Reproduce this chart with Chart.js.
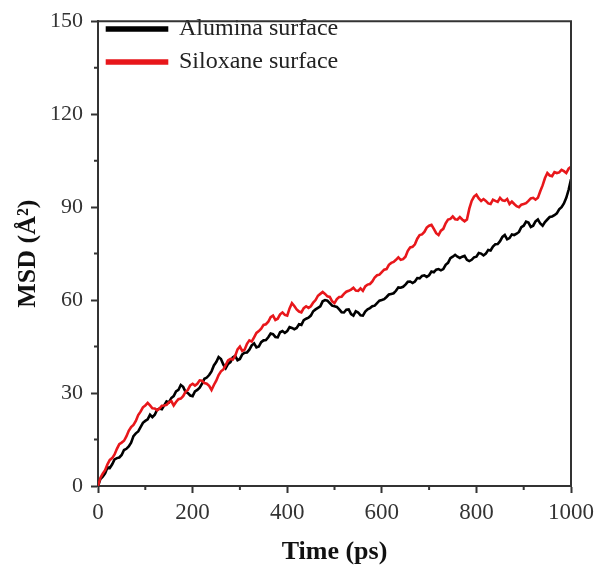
<!DOCTYPE html>
<html>
<head>
<meta charset="utf-8">
<script src="https://cdn.jsdelivr.net/npm/chart.js@4"></script>
<style>
  html, body { margin: 0; padding: 0; background: #fff; }
  #wrap { width: 600px; height: 574px; }
</style>
</head>
<body>
<div id="wrap"><canvas id="msdChart" width="600" height="574"></canvas></div>
<script>
// time axis (ps), one sample every 5 ps
const times = [];
for (let t = 0; t <= 1000; t += 5) times.push(t);

// MSD values (A^2)
const alumina = [
  0, 2.2, 3, 4.1, 6, 5.8, 7, 8.6, 9, 9.2, 10, 11.6, 12, 12.8, 14, 16.1, 17, 17.6, 19, 20.4,
  21, 21.5, 23, 22.2, 23, 24.6, 25, 24.8, 26, 27.3, 27, 28.4, 29, 30.5, 31, 32.6, 32, 30.4, 30, 29.2,
  29, 30.5, 31, 31.7, 33, 34.6, 35, 35.8, 37, 38.9, 40, 41.6, 41, 39.2, 38, 39.4, 40, 41.5, 42, 40.6,
  41, 42.5, 43, 43.1, 44, 45.4, 46, 44.7, 45, 46.4, 47, 47.1, 48, 49.2, 49, 48.1, 48, 49.6, 50, 49.4,
  50, 51.3, 51, 50.6, 51, 52.2, 52, 53.5, 54, 54.3, 55, 56.4, 57, 57.5, 58, 59.6, 60, 59.8, 59, 58.2,
  58, 57.8, 57, 56.1, 56, 56.9, 57, 55.5, 55, 56.4, 56, 55.1, 55, 56.3, 57, 57.4, 58, 58.2, 59, 59.8,
  60, 60.3, 61, 61.8, 62, 62.2, 63, 64.1, 64, 64.3, 65, 65.9, 66, 65.5, 66, 67.1, 67, 67.8, 68, 67.5,
  68, 69.2, 69, 69.8, 70, 69.6, 70, 71.4, 72, 73.5, 74, 74.6, 74, 73.6, 74, 74.3, 73, 72.6, 73, 73.8,
  74, 75.2, 75, 74.4, 75, 76.2, 76, 77.3, 78, 78.1, 79, 80.4, 81, 79.6, 80, 81.2, 81, 81.4, 82, 83.5,
  84, 85.3, 85, 83.6, 84, 85.4, 86, 84.7, 84, 85.2, 86, 86.8, 87, 87.4, 88, 89.3, 90, 91.2, 93, 95.6,
  99
];

const siloxane = [
  0, 2.6, 4, 5.1, 7, 8.4, 9, 10.2, 12, 13.5, 14, 14.6, 16, 17.8, 19, 19.7, 21, 22.9, 24, 25.4,
  26, 26.8, 26, 25.1, 25, 24.4, 25, 25.9, 26, 26.2, 27, 27.4, 26, 27.1, 28, 28.2, 29, 30.4, 31, 32.5,
  33, 32.4, 33, 34.1, 34, 33.2, 33, 32.3, 31, 32.6, 34, 35.8, 37, 37.6, 39, 40.5, 41, 40.8, 42, 44.1,
  45, 43.6, 44, 45.9, 47, 46.6, 48, 49.4, 50, 50.8, 52, 52.2, 53, 54.5, 55, 53.6, 54, 55.4, 56, 55.2,
  55, 57.3, 59, 58.1, 57, 56.3, 56, 57.4, 58, 57.5, 58, 59.2, 60, 61.4, 62, 62.6, 62, 61.2, 61, 59.6,
  59, 60.3, 61, 61.1, 62, 62.7, 63, 63.4, 64, 63.1, 63, 63.8, 63, 64.4, 65, 65.2, 66, 67.3, 68, 68.2,
  69, 69.8, 70, 71.4, 72, 72.3, 73, 73.8, 73, 73.2, 74, 75.9, 77, 77.2, 78, 79.8, 81, 81.2, 82, 83.4,
  84, 84.3, 83, 81.6, 81, 82.4, 83, 84.8, 86, 86.2, 87, 86.1, 86, 86.8, 86, 85.4, 86, 89.5, 92, 93.4,
  94, 92.8, 92, 92.6, 92, 91.2, 91, 92.4, 92, 91.7, 93, 92.2, 92, 92.6, 91, 91.8, 91, 90.3, 90, 90.8,
  91, 91.3, 92, 92.8, 93, 92.4, 93, 95.1, 97, 99.4, 101, 100.2, 100, 101.3, 101, 101.2, 102, 101.6, 101, 102.4,
  103
];

const seriesNames = ['Alumina surface', 'Siloxane surface'];
const xMinorTicks = [100, 300, 500, 700, 900];
const yMinorTicks = [15, 45, 75, 105, 135];

const axisColor = '#333';
const serif = 'Liberation Serif, Times New Roman, serif';

// box round the plot and short minor ticks
const framePlugin = {
  id: 'frame',
  afterDraw(chart) {
    const { ctx, chartArea: a, scales } = chart;
    ctx.save();
    ctx.strokeStyle = axisColor;
    ctx.lineWidth = 2;
    ctx.beginPath();
    ctx.moveTo(a.left, a.top);
    ctx.lineTo(a.right, a.top);
    ctx.lineTo(a.right, a.bottom);
    ctx.stroke();
    ctx.beginPath();
    xMinorTicks.forEach(v => {
      const px = scales.x.getPixelForValue(v);
      ctx.moveTo(px, a.bottom);
      ctx.lineTo(px, a.bottom + 4);
    });
    yMinorTicks.forEach(v => {
      const py = scales.y.getPixelForValue(v);
      ctx.moveTo(a.left, py);
      ctx.lineTo(a.left - 4, py);
    });
    ctx.stroke();
    ctx.restore();
  }
};

const ctx = document.getElementById('msdChart').getContext('2d');
const myChart = new Chart(ctx, {
  type: 'line',
  data: {
    labels: times,
    datasets: [{
      label: seriesNames[0],
      data: alumina,
      borderColor: '#000',
      backgroundColor: '#000',
      borderWidth: 2.6,
      pointRadius: 0,
      tension: 0,
      order: 1
    }, {
      label: seriesNames[1],
      data: siloxane,
      borderColor: '#e8171b',
      backgroundColor: '#e8171b',
      borderWidth: 2.6,
      pointRadius: 0,
      tension: 0,
      order: 0
    }]
  },
  options: {
    responsive: false,
    animation: false,
    layout: { padding: { top: 11, right: 27, left: 0, bottom: 0 } },
    plugins: {
      tooltip: { enabled: false },
      legend: {
        position: 'chartArea',
        align: 'start',
        title: {
          display: true,
          text: '',
          padding: { top: 1, bottom: 1 },
          font: { size: 6, lineHeight: 1 }
        },
        labels: {
          sort: (a, b) => a.datasetIndex - b.datasetIndex,
          boxWidth: 60,
          boxHeight: 3,
          padding: 9,
          color: '#222',
          font: { family: serif, size: 24 }
        }
      }
    },
    scales: {
      x: {
        type: 'linear',
        min: 0,
        max: 1000,
        afterFit: s => { s.height = 88; },
        ticks: {
          stepSize: 200,
          color: axisColor,
          padding: 6,
          maxRotation: 0,
          callback: v => String(v),
          font: { family: serif, size: 23 }
        },
        grid: {
          drawOnChartArea: false,
          drawTicks: true,
          tickLength: 7,
          tickColor: axisColor,
          tickWidth: 2
        },
        border: { color: axisColor, width: 2 },
        title: {
          display: true,
          text: 'Time (ps)',
          color: '#111',
          padding: { top: 0, bottom: 6 },
          font: { family: serif, size: 26, weight: 'bold' }
        }
      },
      y: {
        min: 0,
        max: 150,
        afterFit: s => { s.width = 98; },
        ticks: {
          stepSize: 30,
          color: axisColor,
          padding: 8,
          font: { family: serif, size: 22 }
        },
        grid: {
          drawOnChartArea: false,
          drawTicks: true,
          tickLength: 7,
          tickColor: axisColor,
          tickWidth: 2
        },
        border: { color: axisColor, width: 2 },
        title: {
          display: true,
          text: 'MSD (Å²)',
          color: '#111',
          padding: { top: 13, bottom: 0 },
          font: { family: serif, size: 26, weight: 'bold' }
        }
      }
    }
  },
  plugins: [framePlugin]
});
</script>
</body>
</html>
